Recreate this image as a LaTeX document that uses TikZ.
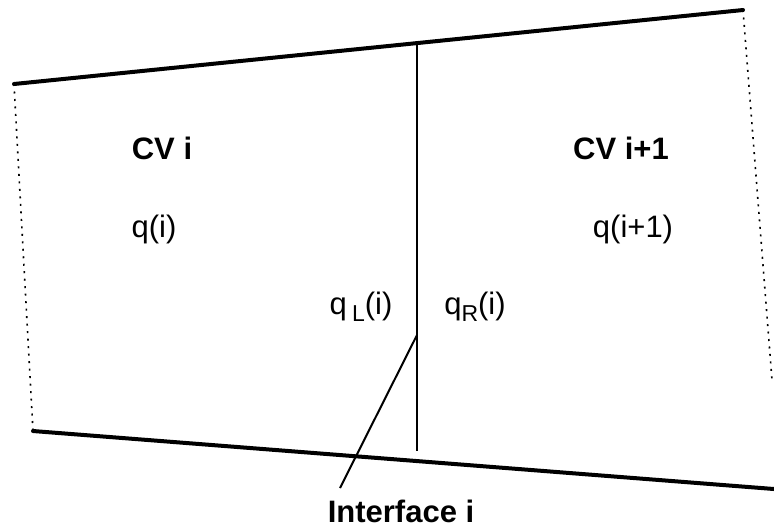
\documentclass[tikz,border=0pt]{standalone}
\usepackage{fontspec}
\setmainfont{Liberation Sans}
\newcommand{\lowsub}[1]{\raisebox{-3.5pt}{\fontsize{11.5}{13}\selectfont #1}}
\begin{document}
\begin{tikzpicture}[x=0.5pt, y=-0.5pt,
    wall/.style={line width=2pt, line cap=round},
    side/.style={line width=0.8pt, dash pattern=on 1pt off 2.75pt},
    thin/.style={line width=1pt},
    lbl/.style={font=\fontsize{15.5}{18}\selectfont, inner sep=0pt},
    head/.style={lbl, font=\fontsize{15.5}{18}\selectfont\bfseries}]
  \useasboundingbox (0,0) rectangle (774,527);
  % corners of the two control volumes
  \coordinate (tl) at (14,84);
  \coordinate (tr) at (743,10);
  \coordinate (bl) at (33,431);
  \coordinate (br) at (774,489);
  \coordinate (rs) at (772,380);
  \coordinate (itop) at (417,42);
  \coordinate (ibot) at (417,451);
  \coordinate (lead) at (417,335);
  \coordinate (leadend) at (340,488);
  \draw[wall] (tl) -- (tr);
  \draw[wall] (bl) -- (br);
  \draw[side] (tl) -- (bl);
  \draw[side] (tr) -- (rs);
  \draw[thin] (itop) -- (ibot);
  \draw[thin] (lead) -- (leadend);
  \node[head] (cvl) at (162,148) {CV i};
  \node[head] (cvr) at (621,148) {CV i+1};
  \node[lbl] (ql) at (154,229) {q(i)};
  \node[lbl] (qr) at (633,229) {q(i+1)};
  \node[lbl] (qleft) at (361,307) {q\,\lowsub{L}(i)};
  \node[lbl] (qright) at (475,307) {q\lowsub{R}(i)};
  \node[head] (iface) at (401,511) {Interface i};
\end{tikzpicture}
\end{document}
